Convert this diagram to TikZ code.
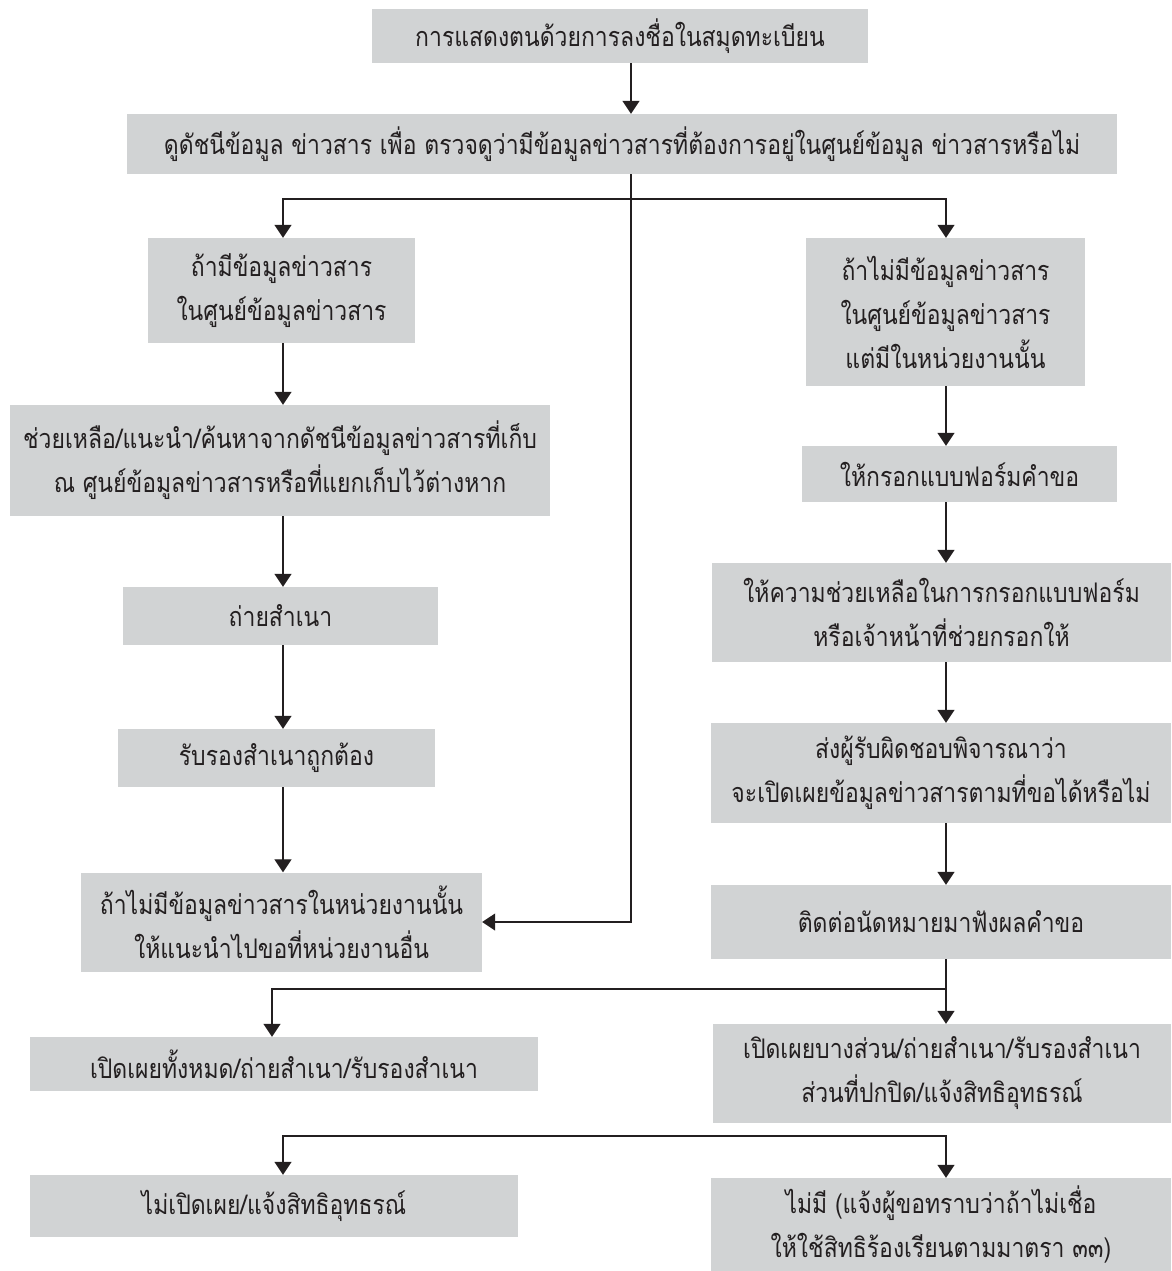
\documentclass[tikz,border=0pt]{standalone}
\usepackage{fontspec}
\usetikzlibrary{arrows.meta}
\newfontfamily\thaifont[Script=Thai,FakeStretch=0.85]{Loma}
\definecolor{boxgray}{RGB}{209,211,212}
\definecolor{inkgray}{RGB}{35,31,32}
\tikzset{
  box/.style={fill=boxgray, inner sep=0pt, align=center, text=inkgray, font=\thaifont\fontsize{27}{44}\selectfont},
  arr/.style={line width=1.2pt, draw=inkgray, -{Triangle[width=17pt,length=13pt]}},
  ln/.style={line width=1.2pt, draw=inkgray}
}

\begin{document}
\begin{tikzpicture}[x=1pt,y=-1pt]
\useasboundingbox (0,0) rectangle (1171,1271);
\coordinate (colL) at (283,0);
\coordinate (colL2) at (272,0);
\coordinate (colM) at (631,0);
\coordinate (colR) at (946,0);

\node[box, minimum width=496pt, minimum height=54pt] (b1) at (620,36) {การแสดงตนด้วยการลงชื่อในสมุดทะเบียน};
\node[box, minimum width=990pt, minimum height=60pt] (b2) at (622,144) {ดูดัชนีข้อมูล ข่าวสาร เพื่อ ตรวจดูว่ามีข้อมูลข่าวสารที่ต้องการอยู่ในศูนย์ข้อมูล ข่าวสารหรือไม่};

\node[box, minimum width=267pt, minimum height=105pt] (l1) at (281.5,290.5) {ถ้ามีข้อมูลข่าวสาร\\ในศูนย์ข้อมูลข่าวสาร};
\node[box, minimum width=540pt, minimum height=111pt] (l2) at (280,460.5) {ช่วยเหลือ/แนะนำ/ค้นหาจากดัชนีข้อมูลข่าวสารที่เก็บ\\ณ ศูนย์ข้อมูลข่าวสารหรือที่แยกเก็บไว้ต่างหาก};
\node[box, minimum width=315pt, minimum height=58pt] (l3) at (280.5,616) {ถ่ายสำเนา};
\node[box, minimum width=317pt, minimum height=58pt] (l4) at (276.5,758) {รับรองสำเนาถูกต้อง};
\node[box, minimum width=401pt, minimum height=99pt] (l5) at (281.5,922) {ถ้าไม่มีข้อมูลข่าวสารในหน่วยงานนั้น\\ให้แนะนำไปขอที่หน่วยงานอื่น};

\node[box, minimum width=279pt, minimum height=148pt] (r1) at (945.5,312) {ถ้าไม่มีข้อมูลข่าวสาร\\ในศูนย์ข้อมูลข่าวสาร\\แต่มีในหน่วยงานนั้น};
\node[box, minimum width=315pt, minimum height=56pt] (r2) at (959.5,474) {ให้กรอกแบบฟอร์มคำขอ};
\node[box, minimum width=459pt, minimum height=99pt] (r3) at (941.5,612.5) {ให้ความช่วยเหลือในการกรอกแบบฟอร์ม\\หรือเจ้าหน้าที่ช่วยกรอกให้};
\node[box, minimum width=460pt, minimum height=100pt] (r4) at (941,773) {ส่งผู้รับผิดชอบพิจารณาว่า\\จะเปิดเผยข้อมูลข่าวสารตามที่ขอได้หรือไม่};
\node[box, minimum width=460pt, minimum height=74pt] (r5) at (941,922) {ติดต่อนัดหมายมาฟังผลคำขอ};

\node[box, minimum width=508pt, minimum height=54pt] (l6) at (284,1064) {เปิดเผยทั้งหมด/ถ่ายสำเนา/รับรองสำเนา};
\node[box, minimum width=458pt, minimum height=99pt] (r6) at (942,1073.5) {เปิดเผยบางส่วน/ถ่ายสำเนา/รับรองสำเนา\\ส่วนที่ปกปิด/แจ้งสิทธิอุทธรณ์};
\node[box, minimum width=488pt, minimum height=62pt] (l7) at (274,1206) {ไม่เปิดเผย/แจ้งสิทธิอุทธรณ์};
\node[box, minimum width=460pt, minimum height=93pt] (r7) at (941,1224.5) {ไม่มี (แจ้งผู้ขอทราบว่าถ้าไม่เชื่อ\\ให้ใช้สิทธิร้องเรียนตามมาตรา ๓๓)};

\coordinate (fork1) at (631,199);
\coordinate (fork2) at (946,989);
\coordinate (fork3) at (615,1136);

\draw[arr] (b1.south -| colM) -- (b2.north -| colM);
\draw[ln] (b2.south -| colM) -- (fork1);
\draw[arr] (fork1) -| (l1.north -| colL);
\draw[arr] (fork1) -| (r1.north -| colR);
\draw[arr] (fork1) |- (l5.east);

\draw[arr] (l1.south -| colL) -- (l2.north -| colL);
\draw[arr] (l2.south -| colL) -- (l3.north -| colL);
\draw[arr] (l3.south -| colL) -- (l4.north -| colL);
\draw[arr] (l4.south -| colL) -- (l5.north -| colL);

\draw[arr] (r1.south -| colR) -- (r2.north -| colR);
\draw[arr] (r2.south -| colR) -- (r3.north -| colR);
\draw[arr] (r3.south -| colR) -- (r4.north -| colR);
\draw[arr] (r4.south -| colR) -- (r5.north -| colR);
\draw[arr] (r5.south -| colR) -- (r6.north -| colR);
\draw[arr] (fork2) -| (l6.north -| colL2);

\draw[arr] (fork3) -| (l7.north -| colL);
\draw[arr] (fork3) -| (r7.north -| colR);
\end{tikzpicture}
\end{document}
